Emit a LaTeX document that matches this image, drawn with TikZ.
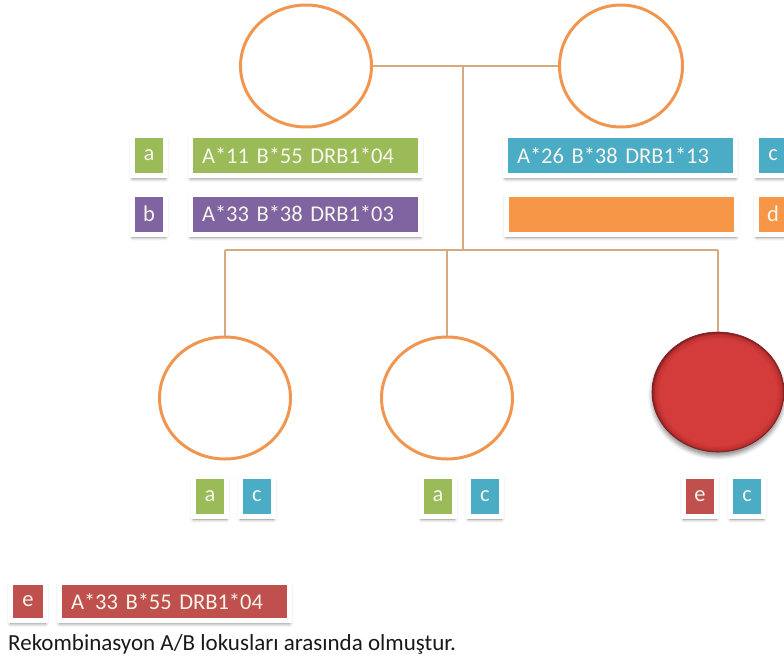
\documentclass[tikz,border=0pt]{standalone}
\usepackage{fontspec}
\setmainfont{Carlito}
\usetikzlibrary{shadows.blur,shapes.geometric}
\definecolor{hgreen}{RGB}{155,187,89}
\definecolor{hpurple}{RGB}{128,100,162}
\definecolor{hcyan}{RGB}{75,172,198}
\definecolor{horange}{RGB}{247,150,70}
\definecolor{hred}{RGB}{192,80,77}
\definecolor{ring}{RGB}{240,150,80}
\definecolor{wire}{RGB}{214,170,125}
\definecolor{sick}{RGB}{212,60,60}
\definecolor{sickrim}{RGB}{190,48,48}
\definecolor{sickedge}{RGB}{130,30,30}
\definecolor{tagtext}{RGB}{246,246,236}
\definecolor{notetext}{RGB}{25,25,25}
% flat disc with a slightly darker bevelled rim
\pgfdeclareradialshading{bevel}{\pgfpoint{0bp}{0bp}}{%
  color(0bp)=(sick); color(22bp)=(sick); color(24bp)=(sickrim);
  color(25bp)=(sickedge); color(50bp)=(sickedge)}
\begin{document}
\begin{tikzpicture}[x=1pt,y=-1pt,
  person/.style={ellipse, draw=ring, line width=3pt, fill=white, inner sep=0,
                 minimum width=131, minimum height=122},
  affected/.style={ellipse, shading=bevel, draw=sickedge, line width=0.6pt, inner sep=0,
                 minimum width=132, minimum height=120,
                 blur shadow={shadow xshift=0pt, shadow yshift=-4pt, shadow blur radius=4pt, shadow opacity=45}},
  conn/.style={draw=wire, line width=1.4pt},
  tag/.style={fill=#1, draw=white, line width=5pt, inner sep=0, text=tagtext,
              font=\fontsize{22.5}{24}\selectfont,
              blur shadow={shadow xshift=0pt, shadow yshift=-3pt, shadow blur radius=3.5pt, shadow opacity=50}},
  letter/.style={tag=#1, minimum width=33, minimum height=40},
  haplo/.style={tag=#1, minimum height=40, text width=207pt, align=left, inner xsep=11.5pt},
]
\useasboundingbox (0,0) rectangle (784,664);

% parents
\node[person] (p1) at (306,66) {};
\node[person, minimum width=123, minimum height=122] (p2) at (621,66) {};

% children
\node[person] (k1) at (225,398) {};
\node[person] (k2) at (447,398) {};
\node[affected] (k3) at (718,392) {};

% pedigree lines
\coordinate (mate) at (463,66);
\coordinate (sib) at (463,250);
\draw[conn] (p1) -- (p2);
\draw[conn] (mate) -- (sib);
\draw[conn] (k1.north |- sib) -- (k3.north |- sib);
\draw[conn] (k1.north |- sib) -- (k1.north);
\draw[conn] (k2.north |- sib) -- (k2.north);
\draw[conn] (k3.north |- sib) -- (k3.north);

% parental haplotypes
\node[letter=hgreen] (la) at (149,155.5) {a};
\node[haplo=hgreen] (ha) at (305.5,155.5) {A*11 B*55 DRB1*04};
\node[letter=hpurple] (lb) at (149,214) {b};
\node[haplo=hpurple] (hb) at (305.5,214) {A*33 B*38 DRB1*03};
\node[haplo=hcyan] (hc) at (620.5,155.5) {A*26 B*38 DRB1*13};
\node[letter=hcyan] (lc) at (773,155.5) {c};
\node[haplo=horange] (hd) at (621,214) {};
\node[letter=horange] (ld) at (773,214) {d};

% children haplotypes
\node[letter=hgreen] (k1a) at (210,496) {a};
\node[letter=hcyan] (k1c) at (257,496) {c};
\node[letter=hgreen] (k2a) at (438,496) {a};
\node[letter=hcyan] (k2c) at (485,496) {c};
\node[letter=hred] (k3e) at (700,496) {e};
\node[letter=hcyan] (k3c) at (747,496) {c};

% recombinant haplotype
\node[letter=hred, minimum width=35, minimum height=38] (le) at (28,601.5) {e};
\node[haplo=hred, minimum height=38] (he) at (174.5,601.5) {A*33 B*55 DRB1*04};
\node[anchor=base west, inner sep=0, text=notetext,
      font=\fontsize{23}{26}\selectfont] (note) at (8,650)
      {Rekombinasyon A/B lokusları arasında olmuştur.};
\end{tikzpicture}
\end{document}
